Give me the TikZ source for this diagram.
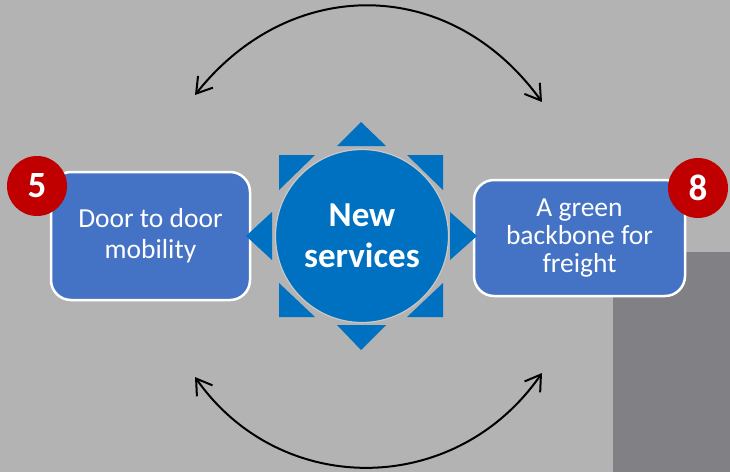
\documentclass[tikz,border=0pt]{standalone}
\usepackage{fontspec}
\setmainfont{Carlito}
\usetikzlibrary{arrows.meta}
\definecolor{bgc}{HTML}{B3B3B3}
\definecolor{darkrect}{HTML}{808085}
\definecolor{boxblue}{HTML}{4472C4}
\definecolor{sunblue}{HTML}{0070C0}
\definecolor{badgered}{HTML}{C00000}
\definecolor{rimgray}{HTML}{C8C8C8}
\begin{document}
\begin{tikzpicture}[x=1pt,y=-1pt,
  infobox/.style={draw=white,line width=2.5pt,fill=boxblue,rounded corners=20pt,
    text=white,align=center,inner sep=0pt},
  badge/.style={circle,fill=badgered,minimum size=60pt,inner sep=0pt,text=white,
    font=\fontsize{37}{37}\selectfont\bfseries},
  ray/.style={fill=sunblue},
  link/.style={line width=2pt,{Straight Barb[length=15pt,width=19pt,line width=2pt]}-{Straight Barb[length=15pt,width=19pt,line width=2pt]}}
]
\fill[bgc] (0,0) rectangle (730,472);
\useasboundingbox (0,0) rectangle (730,472);
\fill[darkrect] (613,252) rectangle (730,472);

% boxes
\node[infobox,minimum width=199pt,minimum height=128pt,
  font=\fontsize{27.5}{31}\selectfont] (door) at (150.5,236) {Door to door\\mobility};
\node[infobox,minimum width=211pt,minimum height=116pt,
  font=\fontsize{27.5}{28}\selectfont] (freight) at (579.5,238) {A green\\backbone for\\freight};

% rays of the sun
\fill[ray] (361,122) -- (386,146) -- (337,146) -- cycle;
\fill[ray] (361,350) -- (386,325) -- (337,325) -- cycle;
\fill[ray] (246,236) -- (272,212) -- (272,260) -- cycle;
\fill[ray] (477,236) -- (450,212) -- (450,260) -- cycle;
\fill[ray] (279,155) -- (315,155) -- (279,190) -- cycle;
\fill[ray] (443,155) -- (407,155) -- (443,190) -- cycle;
\fill[ray] (279,317) -- (279,283) -- (315,317) -- cycle;
\fill[ray] (443,317) -- (443,283) -- (407,317) -- cycle;

% centre
\node[circle,fill=sunblue,draw=rimgray,line width=1.2pt,minimum size=173pt,inner sep=0pt,
  text=white,align=center,font=\fontsize{35}{41}\selectfont\bfseries] (sun) at (362,236) {New\\services};

% badges
\node[badge] (b5) at (37,186) {5};
\node[badge] (b8) at (698,188) {8};

% arcs
\coordinate (tl) at (195,95);
\coordinate (tr) at (542,102);
\coordinate (bl) at (195,377);
\coordinate (br) at (542,373);
\draw[link] (tl) .. controls (290,-25) and (450,-25) .. (tr);
\draw[link] (bl) .. controls (280,498) and (455,498) .. (br);
\end{tikzpicture}
\end{document}
